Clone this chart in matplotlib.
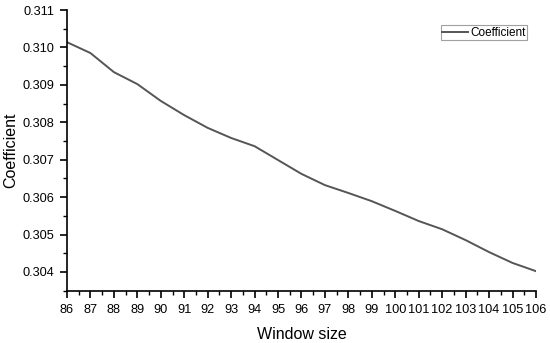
import matplotlib
matplotlib.use("Agg")
import matplotlib.pyplot as plt
from matplotlib.ticker import MultipleLocator, FormatStrFormatter

plt.rcParams['font.family'] = ['Liberation Sans', 'DejaVu Sans']

window_size = list(range(86, 107))
coefficient = [0.31014, 0.30985, 0.30934, 0.30902, 0.30857, 0.30819, 0.30785,
               0.30758, 0.30736, 0.30699, 0.30662, 0.30632, 0.30611, 0.30589,
               0.30563, 0.30536, 0.30514, 0.30485, 0.30453, 0.30424, 0.30402]

fig = plt.figure(figsize=(5.5, 3.43), dpi=100)
ax = fig.add_axes([0.1218, 0.1516, 0.8527, 0.8192])
ax.plot(window_size, coefficient, color='#555555', lw=1.4, label='Coefficient')
ax.set_xlim(86, 106)
ax.set_ylim(0.30349, 0.311)
ax.xaxis.set_major_locator(MultipleLocator(1))
ax.xaxis.set_minor_locator(MultipleLocator(0.5))
ax.yaxis.set_major_locator(MultipleLocator(0.001))
ax.yaxis.set_minor_locator(MultipleLocator(0.0005))
ax.yaxis.set_major_formatter(FormatStrFormatter('%.3f'))
for s in ['top', 'right']:
    ax.spines[s].set_visible(False)
for s in ['left', 'bottom']:
    ax.spines[s].set_linewidth(1.2)
ax.tick_params(which='major', direction='out', length=5, width=1.2, labelsize=9.2, pad=4)
ax.tick_params(which='minor', direction='out', length=3, width=1.0)
ax.set_xlabel('Window size', fontsize=11.5, labelpad=8)
ax.set_ylabel('Coefficient', fontsize=11.5, labelpad=3)
leg = ax.legend(loc='upper right', bbox_to_anchor=(0.98, 0.945), fontsize=8.5,
                frameon=True, fancybox=False, handlelength=2.2, handletextpad=0.2,
                borderpad=0.1, borderaxespad=0)
leg.get_frame().set_edgecolor('#888888')
leg.get_frame().set_linewidth(0.8)
fig.savefig('out.png', dpi=100)
